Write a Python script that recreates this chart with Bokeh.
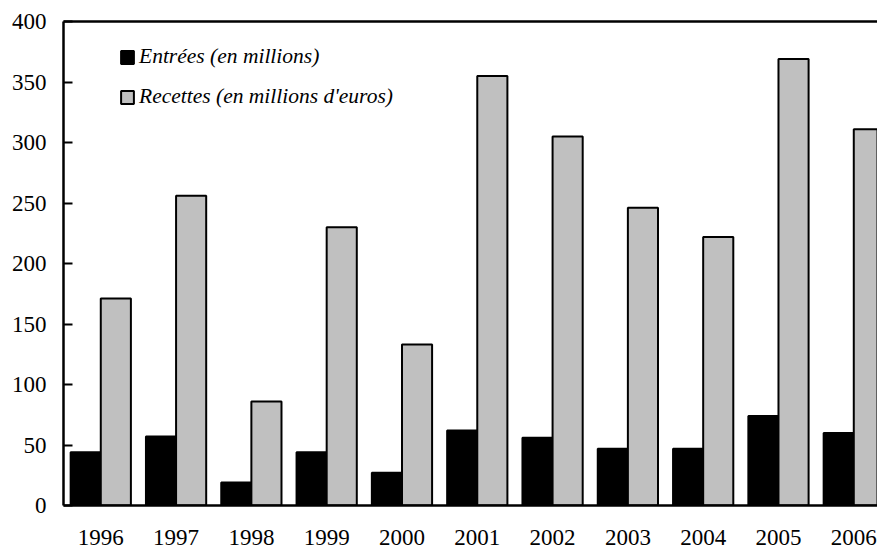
from bokeh.plotting import figure
from bokeh.models import ColumnDataSource, Range1d, FixedTicker, LinearAxis, Legend
from bokeh.transform import dodge
from bokeh.embed import file_html
from bokeh.resources import INLINE

years = ["1996", "1997", "1998", "1999", "2000", "2001", "2002", "2003", "2004", "2005", "2006"]
entrees = [44, 57, 19, 44, 27, 62, 56, 47, 47, 74, 60]
recettes = [171, 256, 86, 230, 133, 355, 305, 246, 222, 369, 311]
y_ticks = [0, 50, 100, 150, 200, 250, 300, 350, 400]

FONT = "Liberation Serif"

src = ColumnDataSource(dict(x=list(range(len(years))), entrees=entrees, recettes=recettes))

p = figure(width=877, height=548, output_backend="svg", toolbar_location=None,
           x_range=Range1d(-0.495, 10.315), y_range=Range1d(0, 400),
           min_border_left=63, min_border_right=0, min_border_top=21, min_border_bottom=43)
p.outline_line_color = None
p.grid.grid_line_color = None
p.background_fill_color = "white"

r1 = p.vbar(x=dodge("x", -0.2, range=p.x_range), top="entrees", width=0.4, source=src,
            fill_color="black", line_color="black", line_width=2)
r2 = p.vbar(x=dodge("x", 0.2, range=p.x_range), top="recettes", width=0.4, source=src,
            fill_color="#c0c0c0", line_color="black", line_width=2)

# axes
xa = p.xaxis[0]
xa.ticker = FixedTicker(ticks=list(range(len(years))))
xa.major_label_overrides = {i: y for i, y in enumerate(years)}
xa.major_tick_line_color = None
xa.minor_tick_line_color = None
xa.axis_line_width = 2.5
xa.major_label_text_font = FONT
xa.major_label_text_font_size = "23px"
xa.major_label_text_color = "black"
xa.major_label_standoff = 18

ya = p.yaxis[0]
ya.ticker = FixedTicker(ticks=y_ticks)
ya.major_tick_in = 9
ya.major_tick_out = 0
ya.major_tick_line_width = 2
ya.minor_tick_line_color = None
ya.axis_line_width = 2.5
ya.major_label_text_font = FONT
ya.major_label_text_font_size = "23px"
ya.major_label_text_color = "black"
ya.major_label_standoff = 17

top = LinearAxis(major_tick_line_color=None, minor_tick_line_color=None,
                 major_label_text_font_size="0px", axis_line_width=2.5,
                 ticker=FixedTicker(ticks=[]))
p.add_layout(top, "above")

legend = Legend(items=[("Entrées (en millions)", [r1]), ("Recettes (en millions d'euros)", [r2])],
                location=(56, 396), orientation="vertical")
legend.background_fill_alpha = 0
legend.border_line_color = None
legend.padding = 0
legend.margin = 0
legend.spacing = 15
legend.glyph_width = 16
legend.glyph_height = 16
legend.label_height = 16
legend.label_standoff = 4
legend.label_text_font = FONT
legend.label_text_font_style = "italic"
legend.label_text_font_size = "21.5px"
legend.label_text_color = "black"
p.add_layout(legend, "center")

open("out.html", "w").write(file_html(p, INLINE))
